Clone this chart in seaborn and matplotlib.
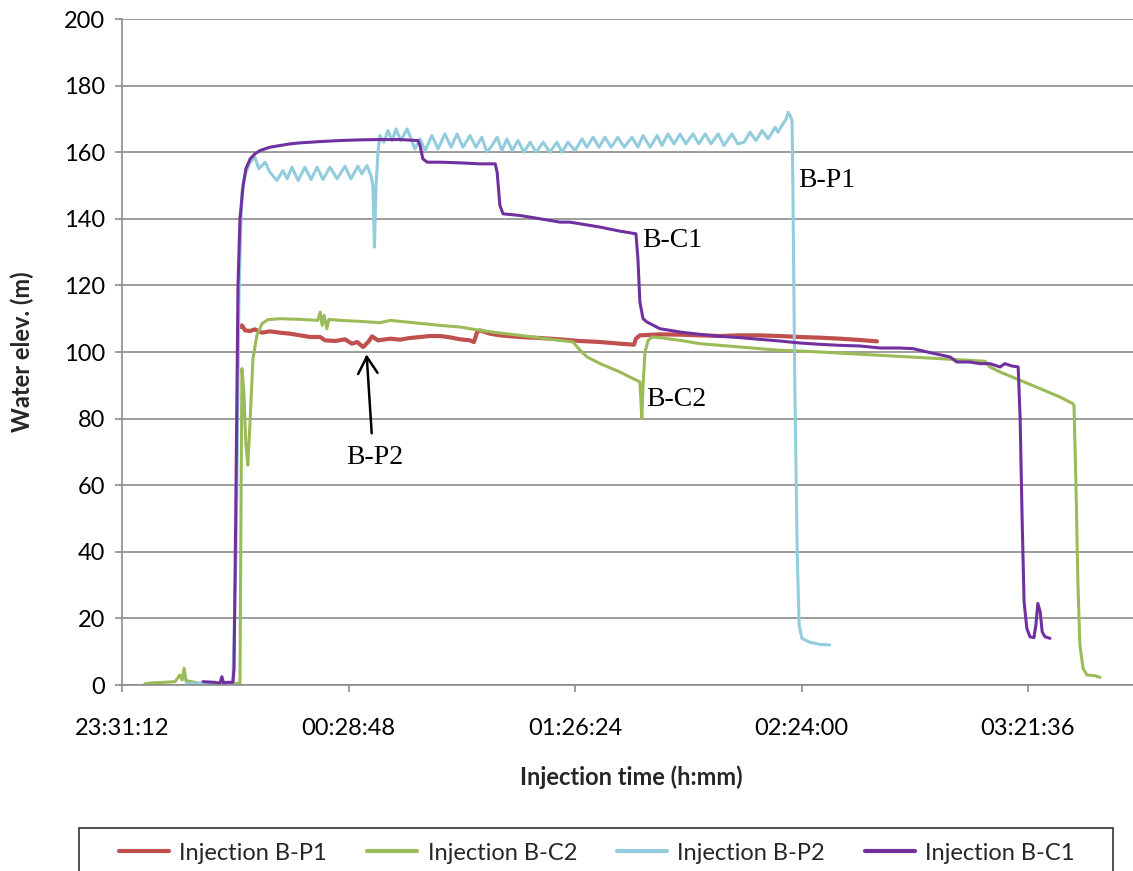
import matplotlib
matplotlib.use("Agg")
import matplotlib.pyplot as plt
from matplotlib.lines import Line2D
from matplotlib.patches import Rectangle
import pandas as pd
import seaborn as sns

# Elapsed minutes since 23:31:12 and water elevation (m) for each injection test
bp1_t = [30.0, 30.5, 31.3, 32.6, 33.8, 35.6, 37.6, 40.2, 42.7, 45.3, 47.8, 50.4, 51.6,
         54.2, 56.7, 58.5, 59.8, 61.3, 62.6, 63.6, 65.1, 68.2, 70.7, 73.2, 75.8, 78.3,
         80.9, 83.4, 86.0, 88.5, 89.5, 90.3, 91.0, 93.6, 96.1, 101.2, 106.3, 111.4,
         116.5, 121.6, 126.6, 130.2, 130.7, 131.7, 136.8, 141.9, 147.0, 152.1, 157.2,
         162.2, 167.3, 172.4, 177.5, 182.6, 187.7, 192.0]
bp1_h = [107.5, 108.0, 106.5, 106.3, 106.8, 105.8, 106.2, 105.8, 105.5, 105.0, 104.5,
         104.5, 103.5, 103.3, 103.8, 102.5, 103.0, 101.5, 103.0, 104.7, 103.5, 104.0,
         103.7, 104.2, 104.5, 104.8, 104.8, 104.4, 103.8, 103.5, 103.0, 106.0, 106.5,
         105.5, 105.0, 104.5, 104.2, 103.8, 103.3, 103.0, 102.5, 102.2, 104.0, 105.0,
         105.3, 105.2, 105.0, 104.8, 105.0, 105.0, 104.8, 104.5, 104.3, 104.0, 103.6,
         103.2]

bc2_t = [5.8, 7.1, 10.9, 13.5, 14.7, 15.3, 15.8, 16.3, 16.8, 19.8, 30.0, 30.3, 30.5,
         31.0, 31.5, 32.0, 32.6, 33.3, 34.3, 35.6, 37.1, 40.2, 45.3, 49.8, 50.4, 50.9,
         51.4, 52.1, 52.6, 55.4, 60.5, 65.6, 68.2, 70.7, 75.8, 80.9, 86.0, 91.0, 96.1,
         101.2, 106.3, 111.4, 114.7, 116.5, 118.3, 121.6, 126.6, 130.0, 131.7, 132.2,
         132.5, 133.0, 133.8, 134.8, 136.8, 141.9, 147.0, 152.1, 157.2, 162.2, 167.3,
         172.4, 177.5, 185.1, 192.8, 200.4, 208.0, 215.6, 219.5, 220.7, 223.3, 228.4,
         233.5, 238.5, 241.8, 242.1, 242.6, 243.1, 243.6, 244.4, 245.4, 247.4, 248.7]
bc2_h = [0.3, 0.6, 0.8, 1.0, 3.0, 1.5, 5.0, 1.0, 1.2, 0.5, 0.5, 60.0, 95.0, 88.0, 72.0,
         66.0, 80.0, 98.0, 105.0, 108.5, 109.7, 110.0, 109.8, 109.5, 112.0, 108.0, 111.0,
         107.0, 109.8, 109.5, 109.2, 108.8, 109.5, 109.2, 108.6, 108.0, 107.5, 106.5,
         105.7, 105.0, 104.2, 103.5, 103.0, 100.5, 98.5, 96.5, 94.0, 92.0, 91.0, 80.0,
         90.0, 100.0, 103.5, 104.5, 104.3, 103.5, 102.5, 102.0, 101.5, 101.0, 100.5,
         100.3, 100.0, 99.5, 99.0, 98.5, 98.0, 97.5, 97.2, 95.5, 94.0, 91.5, 89.0, 86.5,
         84.5, 84.0, 60.0, 30.0, 12.0, 5.0, 3.0, 2.8, 2.3]

bp2_t = [16.5, 28.2, 29.0, 29.8, 30.5, 31.5, 32.6, 33.8, 34.8, 36.4, 37.6, 39.4, 40.9,
         42.0, 43.2, 44.8, 46.5, 48.1, 49.6, 51.1, 52.9, 54.7, 56.7, 58.2, 60.0, 61.0,
         62.3, 63.3, 63.8, 64.2, 64.6, 65.1, 65.6, 66.6, 67.6, 68.7, 69.7, 70.9, 72.5,
         73.5, 74.5, 75.8, 77.1, 78.8, 80.4, 82.1, 83.7, 85.2, 86.7, 88.5, 90.0, 91.5,
         92.8, 94.1, 95.4, 96.6, 97.9, 99.2, 100.7, 102.2, 103.8, 105.3, 107.1, 108.8,
         110.6, 111.9, 113.4, 115.2, 117.0, 118.2, 119.8, 121.3, 122.8, 124.4, 126.1,
         127.7, 129.7, 131.2, 132.5, 134.3, 136.1, 137.3, 138.8, 140.4, 141.9, 143.4,
         145.2, 146.7, 148.3, 149.8, 151.6, 153.1, 155.1, 156.6, 158.2, 159.7, 161.2,
         162.8, 164.3, 166.1, 166.8, 167.8, 168.9, 169.4, 169.9, 170.4, 170.6, 171.1,
         171.7, 172.2, 172.9, 175.0, 177.5, 180.0]
bp2_h = [0.5, 0.5, 40.0, 120.0, 148.0, 154.0, 157.0, 158.5, 155.0, 157.0, 154.0, 151.5,
         154.5, 152.0, 155.5, 151.5, 155.5, 151.8, 155.5, 151.8, 155.5, 152.0, 155.8,
         152.0, 155.8, 153.5, 156.0, 153.0, 150.0, 131.5, 150.0, 160.0, 165.0, 163.0,
         166.5, 163.5, 167.0, 163.5, 167.0, 164.0, 161.0, 164.0, 160.5, 165.0, 161.0,
         165.5, 161.5, 165.5, 161.5, 165.0, 161.5, 164.5, 160.0, 162.0, 164.5, 160.5,
         164.0, 160.5, 163.5, 160.0, 163.0, 160.0, 163.0, 160.0, 163.0, 160.0, 163.0,
         160.5, 164.0, 161.5, 164.5, 161.5, 164.5, 161.5, 164.5, 161.5, 164.5, 161.5,
         165.0, 161.5, 165.0, 162.0, 165.5, 162.5, 165.5, 162.5, 165.5, 162.5, 165.5,
         162.5, 165.5, 162.0, 165.5, 162.5, 163.0, 166.0, 163.5, 166.5, 164.0, 167.5,
         166.0, 168.0, 170.0, 172.0, 171.0, 169.5, 150.0, 90.0, 40.0, 18.0, 14.0, 12.8,
         12.2, 12.0]

bc1_t = [20.6, 23.6, 24.9, 25.4, 25.9, 26.4, 28.2, 28.5, 29.0, 29.5, 30.0, 30.8, 31.5,
         32.6, 33.8, 35.1, 37.6, 40.2, 42.7, 45.3, 50.4, 55.4, 60.5, 65.6, 70.7, 75.3,
         75.8, 76.5, 77.6, 80.9, 86.0, 91.0, 94.9, 95.4, 96.1, 96.9, 101.2, 106.3, 111.4,
         113.9, 116.5, 121.6, 126.6, 130.7, 131.2, 131.7, 132.5, 133.5, 136.8, 141.9,
         147.0, 152.1, 157.2, 162.2, 167.3, 172.4, 177.5, 182.6, 187.7, 192.8, 197.8,
         201.2, 205.5, 210.6, 212.3, 215.6, 218.2, 220.7, 223.3, 224.5, 226.3, 227.9,
         228.4, 228.9, 229.4, 230.1, 230.9, 231.9, 232.4, 232.9, 233.5, 234.0, 234.7,
         236.0]
bc1_h = [1.0, 0.8, 0.5, 2.5, 0.3, 0.8, 0.8, 5.0, 60.0, 120.0, 140.0, 150.0, 155.0, 158.0,
         159.5, 160.5, 161.5, 162.0, 162.5, 162.8, 163.2, 163.5, 163.7, 163.8, 163.8,
         163.5, 162.0, 158.0, 157.0, 157.0, 156.8, 156.5, 156.5, 154.0, 144.0, 141.5,
         141.0, 140.0, 139.0, 139.0, 138.5, 137.5, 136.3, 135.5, 128.0, 115.0, 110.0,
         109.0, 107.0, 106.0, 105.3, 104.7, 104.3, 103.8, 103.3, 102.7, 102.3, 102.0,
         101.8, 101.2, 101.2, 101.0, 99.8, 98.5, 97.0, 97.0, 96.5, 96.5, 95.5, 96.5,
         95.8, 95.5, 80.0, 50.0, 25.0, 17.0, 14.5, 14.2, 18.0, 24.5, 22.0, 16.0, 14.5,
         14.0]

series_names = ["Injection B-P1", "Injection B-C2", "Injection B-P2", "Injection B-C1"]
series_colors = ["#C0504D", "#9BBB59", "#93CDDD", "#7030A0"]
series_data = [(bp1_t, bp1_h), (bc2_t, bc2_h), (bp2_t, bp2_h), (bc1_t, bc1_h)]

x_tick_minutes = [0, 57.6, 115.2, 172.8, 230.4]
x_tick_labels = ["23:31:12", "00:28:48", "01:26:24", "02:24:00", "03:21:36"]
y_ticks = list(range(0, 201, 20))

# Curve labels written beside the lines: (text, minutes, elevation)
curve_labels = [("B-P1", 171.9, 151.6), ("B-C1", 132.4, 133.6),
                ("B-C2", 133.4, 85.6), ("B-P2", 64.3, 68.2)]

frames = [pd.DataFrame({"minutes": t, "elevation": h, "series": name})
          for name, (t, h) in zip(series_names, series_data)]
df = pd.concat(frames, ignore_index=True)

sns.set_theme(style="white")
plt.rcParams["font.family"] = ["Lato", "DejaVu Sans"]

W, H = 1133, 871
fig = plt.figure(figsize=(W / 100, H / 100), dpi=100)
ax = fig.add_axes([122 / W, 186 / H, 1011 / W, 666 / H])

sns.lineplot(data=df, x="minutes", y="elevation", hue="series",
             hue_order=series_names, palette=series_colors, sort=False,
             estimator=None, legend=False, ax=ax, linewidth=2.2)
for line, lw in zip(ax.get_lines(), [3.0, 2.2, 2.2, 2.2]):
    line.set_linewidth(lw)
    line.set_solid_joinstyle("round")

grid_gray = "#8C8C8C"
ax.set_xlim(0, 257.1)
ax.set_ylim(0, 200)
ax.set_yticks(y_ticks)
ax.set_xticks(x_tick_minutes, x_tick_labels)
ax.yaxis.grid(True, color=grid_gray, linewidth=1.2)
ax.xaxis.grid(False)
ax.set_axisbelow(True)
for side in ["top", "right"]:
    ax.spines[side].set_visible(False)
for side in ["left", "bottom"]:
    ax.spines[side].set_color(grid_gray)
    ax.spines[side].set_linewidth(1.2)

ax.tick_params(axis="both", which="major", bottom=True, left=True, direction="out",
               length=5, width=1.2, color=grid_gray, labelsize=17, labelcolor="black")
ax.tick_params(axis="x", pad=19)
ax.tick_params(axis="y", pad=7)

ax.set_ylabel("Water elev. (m)", fontsize=17, fontweight="bold", va="center")
ax.yaxis.set_label_coords(-0.0989, 0.5)
ax.set_xlabel("Injection time (h:mm)", fontsize=17, fontweight="bold", va="center")
ax.xaxis.set_label_coords(0.504, -0.138)

for text, tx, ty in curve_labels:
    ha = "center" if text == "B-P2" else "left"
    ax.text(tx, ty, text, family="Liberation Serif", fontsize=20, color="black",
            ha=ha, va="center")

ax.annotate("", xy=(62.2, 99.3), xytext=(63.5, 75.6),
            arrowprops=dict(arrowstyle="->,head_length=0.6,head_width=0.35",
                            color="black", lw=1.8, mutation_scale=20,
                            shrinkA=0, shrinkB=0))

handles = [Line2D([0], [0], color=c, lw=3) for c in series_colors]
fig.legend(handles, series_names, loc="center", bbox_to_anchor=(597 / W, 1 - 853 / H),
           ncol=4, frameon=False, fontsize=17, handlelength=2.1, handletextpad=0.45,
           columnspacing=1.7)
fig.patches.append(Rectangle((79 / W, -0.03), (1113 - 79) / W, (871 - 828) / H + 0.03,
                             transform=fig.transFigure, fill=False,
                             edgecolor="#333333", linewidth=1.2))

fig.savefig("out.png", dpi=100)
